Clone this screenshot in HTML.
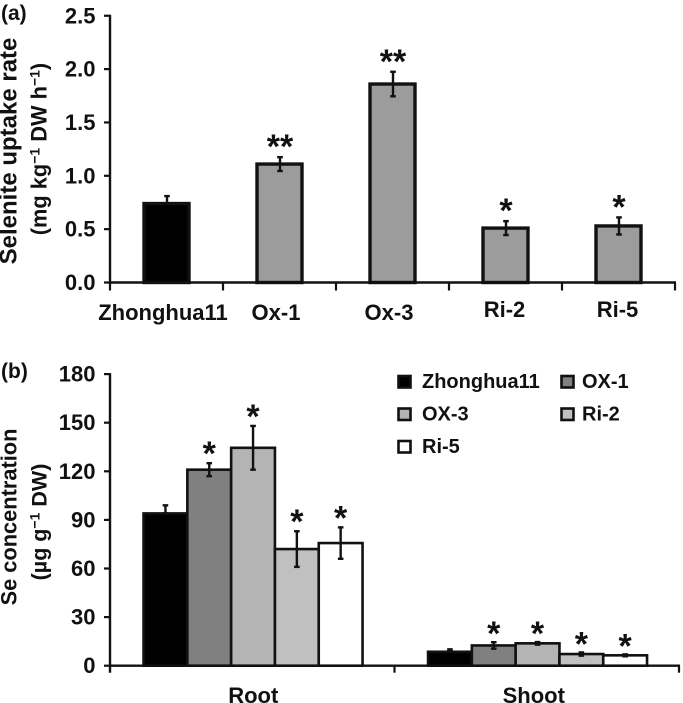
<!DOCTYPE html>
<html lang="en">
<head>
<meta charset="utf-8">
<title>Selenite uptake and Se concentration</title>
<style>
html,body{margin:0;padding:0;background:#fff;width:683px;height:703px;overflow:hidden}
svg{display:block;font-family:"Liberation Sans",sans-serif;font-weight:bold;fill:#111}
</style>
</head>
<body>
<svg id="fig" xmlns="http://www.w3.org/2000/svg" width="683" height="703" viewBox="0 0 683 703">
  <text x="1" y="20" font-size="21">(a)</text>
  <text x="1" y="378" font-size="21">(b)</text>
  <text transform="translate(16.5,151) rotate(-90)" text-anchor="middle" font-size="24">Selenite uptake rate</text>
  <text transform="translate(46.5,149) rotate(-90)" text-anchor="middle" font-size="21.8">(mg kg<tspan font-size="14" dy="-7">−1</tspan><tspan dy="7"> DW h</tspan><tspan font-size="14" dy="-7">−1</tspan><tspan dy="7">)</tspan></text>
  <text transform="translate(16.5,517) rotate(-90)" text-anchor="middle" font-size="21.8">Se concentration</text>
  <text transform="translate(46.5,522) rotate(-90)" text-anchor="middle" font-size="21.5">(µg g<tspan font-size="14" dy="-7">−1</tspan><tspan dy="7"> DW)</tspan></text>
  <g id="plotA"></g>
  <g id="plotB"></g>
  <g id="legend"></g>
</svg>
<script>
// Panel (a) data
const categoriesA = ['Zhonghua11', 'Ox-1', 'Ox-3', 'Ri-2', 'Ri-5'];
const ticksA = ['0.0', '0.5', '1.0', '1.5', '2.0', '2.5'];
const uptakeRate = [0.74, 1.11, 1.86, 0.51, 0.53];
const uptakeErr = [0.07, 0.065, 0.115, 0.065, 0.08];
const uptakeSig = ['', '**', '**', '*', '*'];

// Panel (b) data
const tissues = ['Root', 'Shoot'];
const lines = ['Zhonghua11', 'OX-1', 'OX-3', 'Ri-2', 'Ri-5'];
const ticksB = ['0', '30', '60', '90', '120', '150', '180'];
const seRoot = [94, 121, 134.5, 72, 75.7];
const seRootErr = [5, 4, 13.5, 11, 9.7];
const seRootSig = ['', '*', '*', '*', '*'];
const seShoot = [8.6, 12.5, 13.8, 7.2, 6.4];
const seShootErr = [1.5, 2, 0.8, 1, 0.6];
const seShootSig = ['', '*', '*', '*', '*'];
const lineColors = ['#000000', '#808080', '#b4b4b4', '#c0c0c0', '#ffffff'];

const NS = 'http://www.w3.org/2000/svg';
function mk(parent, tag, attrs, txt) {
  const el = document.createElementNS(NS, tag);
  for (const k in attrs) el.setAttribute(k, attrs[k]);
  if (txt !== undefined) el.textContent = txt;
  parent.appendChild(el);
  return el;
}
const plotA = document.getElementById('plotA');
const plotB = document.getElementById('plotB');
const legend = document.getElementById('legend');

// Panel (a) axis functions
const axisXA = 110, bandA = 113;
const yA = v => 282.5 - v * 106.7;
const xA = i => axisXA + bandA * (i + 0.5);

// Panel (b) axis functions
const axisXB = 110, bandB = 284.5, barB = 43.8;
const yB = v => 665.7 - v * 1.62;
const xB = (g, s) => axisXB + bandB * (g + 0.5) + (s - 2) * barB + 0.8;

function line(parent, x1, y1, x2, y2, w, name) {
  const el = mk(parent, 'line', {x1: x1, y1: y1, x2: x2, y2: y2, stroke: '#111', 'stroke-width': w});
  
  
  return el;
}
function errorBar(parent, x, top, bottom, name) {
  line(parent, x, top, x, bottom, 2.4, name);
  line(parent, x - 2.8, top, x + 2.8, top, 2.4, name + '-cap-top');
  line(parent, x - 2.8, bottom, x + 2.8, bottom, 2.4, name + '-cap-bottom');
}
function star(parent, x, y, s, name) {
  const el = mk(parent, 'text', {x: x, y: y + 19, 'text-anchor': 'middle', 'font-size': 34}, s);
  
  
}

// Draw panel (a)
uptakeRate.forEach((v, i) => {
  const cx = xA(i), top = yA(v), w = 45;
  const bar = mk(plotA, 'rect', {x: cx - w / 2, y: top, width: w, height: yA(0) - top,
    fill: i === 0 ? '#000' : '#9c9c9c', stroke: '#111', 'stroke-width': 3.4});
  
  
  errorBar(plotA, cx + 0.5, yA(v + uptakeErr[i]), i === 0 ? top : yA(v - uptakeErr[i]), 'error-bar-a-' + i);
  if (uptakeSig[i]) star(plotA, cx + 0.5, yA(v + uptakeErr[i]) - 18, uptakeSig[i], 'significance-a-' + i);
  const lab = mk(plotA, 'text', {x: cx + (i < 3 ? -3.5 : -1), y: i < 3 ? 320 : 317, 'text-anchor': 'middle', 'font-size': 22}, categoriesA[i]);
  
  
});
line(plotA, axisXA, yA(2.5) - 1, axisXA, yA(0) + 1.5, 2.4, 'y-axis-a');
line(plotA, axisXA - 1, yA(0), axisXA + bandA * categoriesA.length + 1, yA(0), 2.4, 'x-axis-a');
ticksA.forEach(t => {
  const v = parseFloat(t);
  line(plotA, axisXA - 6, yA(v), axisXA, yA(v), 2.2, 'y-tick-a-' + t);
  const lab = mk(plotA, 'text', {x: 95.5, y: yA(v) + 7.5, 'text-anchor': 'end', 'font-size': 22}, t);
  
  
});
for (let i = 0; i <= categoriesA.length; i++) {
  const x = axisXA + bandA * i;
  line(plotA, x, yA(0), x, yA(0) + 8, 2.2, 'x-tick-a-' + i);
}

// Draw panel (b)
[[seRoot, seRootErr, seRootSig], [seShoot, seShootErr, seShootSig]].forEach((grp, g) => {
  grp[0].forEach((v, s) => {
    const x = xB(g, s), top = yB(v);
    const bar = mk(plotB, 'rect', {x: x - barB / 2, y: top, width: barB, height: yB(0) - top,
      fill: lineColors[s], stroke: '#111', 'stroke-width': 2.6});
    
    
  });
  grp[0].forEach((v, s) => {
    const x = xB(g, s), e = grp[1][s];
    errorBar(plotB, x, yB(v + e), s === 0 ? yB(v) : yB(v - e), 'error-bar-b-' + g + '-' + s);
    if (grp[2][s]) star(plotB, x, yB(v + e) - (g ? 16 : 17), grp[2][s], 'significance-b-' + g + '-' + s);
  });
  const lab = mk(plotB, 'text', {x: axisXB + bandB * (g + 0.5) + (g ? -3 : 1), y: 703, 'text-anchor': 'middle', 'font-size': 22}, tissues[g]);
  
  
});
line(plotB, axisXB, yB(180) - 1, axisXB, yB(0) + 7, 2.4, 'y-axis-b');
line(plotB, axisXB - 1, yB(0), axisXB + bandB * tissues.length + 1, yB(0), 2.4, 'x-axis-b');
ticksB.forEach(t => {
  const v = parseFloat(t);
  line(plotB, axisXB - 6, yB(v), axisXB, yB(v), 2.2, 'y-tick-b-' + t);
  const lab = mk(plotB, 'text', {x: 95.5, y: yB(v) + 7.5, 'text-anchor': 'end', 'font-size': 22}, t);
  
  
});
for (let i = 1; i <= tissues.length; i++) {
  const x = axisXB + bandB * i;
  line(plotB, x, yB(0), x, yB(0) + 7, 2.2, 'x-tick-b-' + i);
}

// Legend: two columns, three rows
lines.forEach((name, i) => {
  const col = i % 2, row = Math.floor(i / 2);
  const sx = col ? 561.5 : 398.5;
  const sy = 376 + row * 32.5;
  const sw = mk(legend, 'rect', {x: sx, y: sy, width: 12, height: 11.5, fill: lineColors[i], stroke: '#111', 'stroke-width': 2.6});
  
  
  const t = mk(legend, 'text', {x: col ? 582 : 422, y: sy + 12, 'font-size': 20}, name);
  
  
});
</script>
</body>
</html>
